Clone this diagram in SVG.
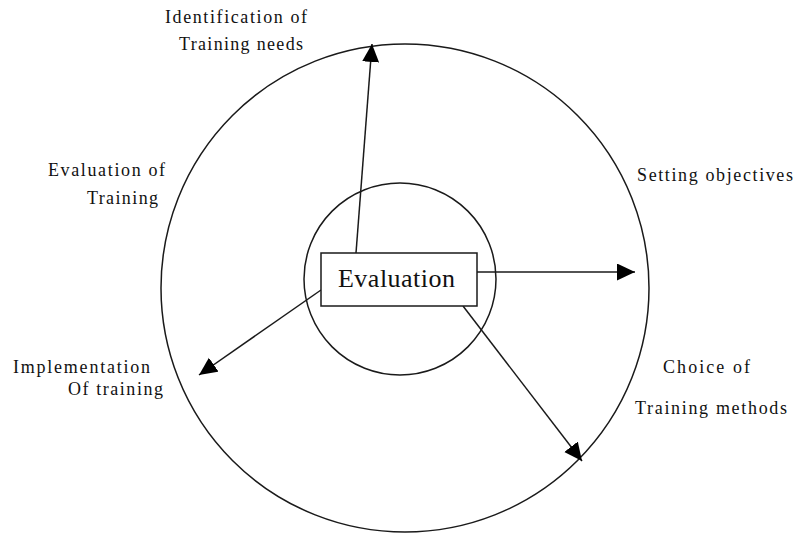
<svg xmlns="http://www.w3.org/2000/svg" width="794" height="533" viewBox="0 0 794 533">
  <style>
    .ring { fill: none; stroke: #1a1a1a; stroke-width: 1.5; }
    .box { fill: #ffffff; stroke: #1a1a1a; stroke-width: 1.5; }
    .link { fill: none; stroke: #1a1a1a; stroke-width: 1.5; marker-end: url(#head); }
    .lbl { font-family: "Liberation Serif", "Times New Roman", serif; font-size: 18px; fill: #111; }
    .core { font-family: "Liberation Serif", "Times New Roman", serif; font-size: 26px; fill: #111; }
  </style>
  <defs>
    <marker id="head" markerUnits="userSpaceOnUse" markerWidth="19" markerHeight="18" refX="18" refY="8.5" orient="auto">
      <path d="M0,0 L18,8.5 L0,17 Z" fill="#000"/>
    </marker>
  </defs>
  <rect width="794" height="533" fill="#ffffff"/>

  <!-- rings -->
  <g id="outer-ring">
    <circle class="ring" cx="405" cy="288" r="244"/>
  </g>
  <g id="inner-ring">
    <circle class="ring" cx="400" cy="279" r="96"/>
  </g>

  <!-- connectors from the centre box outwards -->
  <g id="connectors">
    <line class="link" x1="356" y1="253" x2="372" y2="44"/>
    <line class="link" x1="477" y1="272" x2="635" y2="272"/>
    <line class="link" x1="321" y1="290" x2="199" y2="375"/>
    <line class="link" x1="463" y1="306" x2="582" y2="461"/>
  </g>

  <!-- centre node -->
  <g id="evaluation">
    <rect class="box" x="321" y="253" width="156" height="53"/>
    <text class="core" x="338" y="287" textLength="117" lengthAdjust="spacing">Evaluation</text>
  </g>

  <!-- stage labels -->
  <g id="identification">
    <text class="lbl" x="165" y="23" textLength="142" lengthAdjust="spacing">Identification of</text>
    <text class="lbl" x="179" y="50" textLength="124" lengthAdjust="spacing">Training needs</text>
  </g>
  <g id="objectives">
    <text class="lbl" x="637" y="181" textLength="156" lengthAdjust="spacing">Setting objectives</text>
  </g>
  <g id="methods">
    <text class="lbl" x="663" y="373" textLength="87" lengthAdjust="spacing">Choice of</text>
    <text class="lbl" x="635" y="414" textLength="152" lengthAdjust="spacing">Training methods</text>
  </g>
  <g id="implementation">
    <text class="lbl" x="13" y="373" textLength="137" lengthAdjust="spacing">Implementation</text>
    <text class="lbl" x="68" y="395" textLength="95" lengthAdjust="spacing">Of training</text>
  </g>
  <g id="evaluation-of-training">
    <text class="lbl" x="48" y="176" textLength="117" lengthAdjust="spacing">Evaluation of</text>
    <text class="lbl" x="87" y="204" textLength="71" lengthAdjust="spacing">Training</text>
  </g>
</svg>
